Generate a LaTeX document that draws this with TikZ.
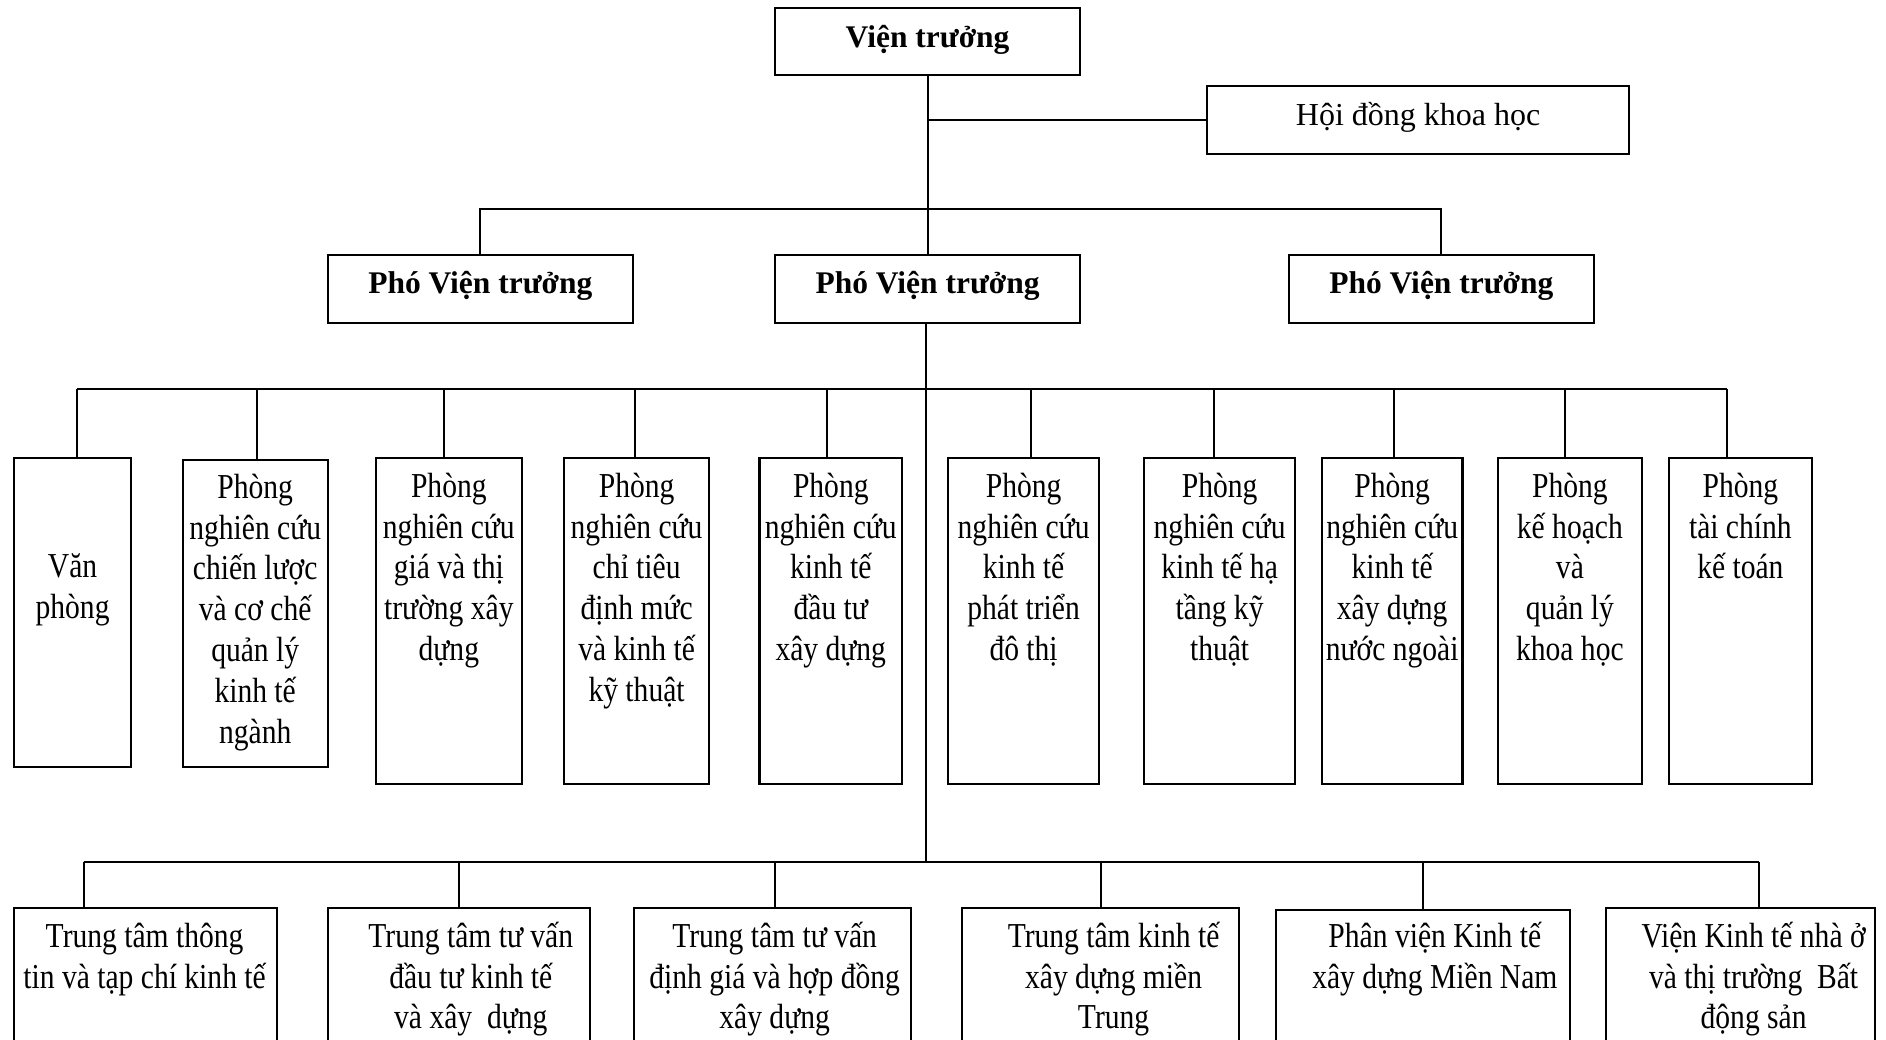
\documentclass[tikz,border=0pt]{standalone}
\usepackage{fontspec}
\setmainfont{Liberation Serif}
\newfontfamily\boxfont{Liberation Serif}[FakeStretch=0.845]
\newcommand\mkbox[5]{\node[frame, minimum width={#4-#2}, minimum height={#5-#3}] (#1) at (#2,#3) {};}
\newcommand\boxtext{\boxfont\fontsize{35}{40.8}\selectfont\lineskiplimit=-60pt\relax\lineskip=0pt\relax}
\begin{document}
\begin{tikzpicture}[x=1pt,y=-1pt,
  frame/.style={draw, line width=2.2pt, inner sep=0pt, anchor=north west},
  link/.style={line width=2pt},
  hdr/.style={font=\bfseries\fontsize{31.5}{38}\selectfont, anchor=base, inner sep=0pt},
  plain/.style={font=\fontsize{32}{38}\selectfont, anchor=base, inner sep=0pt},
  txt/.style={font=\boxtext, align=flush center, inner sep=0pt, anchor=north, text width=320pt}]
\useasboundingbox (0,0) rectangle (1886,1040);
\fill[white] (0,0) rectangle (1886,1040);
\clip (0,0) rectangle (1886,1040);

% top level
\mkbox{vt}{774}{7}{1079}{74}
\mkbox{hd}{1206}{85}{1628}{153}
\mkbox{p1}{327}{254}{631.5}{322}
\mkbox{p2}{774}{254}{1079}{322}
\mkbox{p3}{1288}{254}{1592.5}{322}
\node[hdr] (vt-t) at ([yshift=-41pt]vt.north) {Viện trưởng};
\node[plain] (hd-t) at ([yshift=-41pt]hd.north) {Hội đồng khoa học};
\node[hdr] (p1-t) at ([yshift=-40pt]p1.north) {Phó Viện trưởng};
\node[hdr] (p2-t) at ([yshift=-40pt]p2.north) {Phó Viện trưởng};
\node[hdr] (p3-t) at ([yshift=-40pt]p3.north) {Phó Viện trưởng};

% departments
\mkbox{v1}{13}{457}{130}{766}
\mkbox{v2}{181.6}{459}{326.6}{766}
\mkbox{v3}{374.7}{457}{520.8}{783}
\mkbox{v4}{563}{457}{708}{783}
\mkbox{v5}{758.4}{457}{901}{783}
\mkbox{v6}{947}{457}{1098}{783}
\mkbox{v7}{1143}{457}{1294}{783}
\mkbox{v8}{1320.7}{457}{1461.4}{783}
\mkbox{v9}{1497}{457}{1640.6}{783}
\mkbox{v10}{1667.7}{457}{1810.8}{783}
\node[txt] (v1-t) at (v1.north) {\rule{0pt}{120pt}Văn\\phòng};
\node[txt] (v2-t) at (v2.north) {\rule{0pt}{39pt}Phòng\\nghiên cứu\\chiến lược\\và cơ chế\\quản lý\\kinh tế\\ngành};
\node[txt] (v3-t) at (v3.north) {\rule{0pt}{40pt}Phòng\\nghiên cứu\\giá và thị\\trường xây\\dựng};
\node[txt] (v4-t) at (v4.north) {\rule{0pt}{40pt}Phòng\\nghiên cứu\\chỉ tiêu\\định mức\\và kinh tế\\kỹ thuật};
\node[txt] (v5-t) at (v5.north) {\rule{0pt}{40pt}Phòng\\nghiên cứu\\kinh tế\\đầu tư\\xây dựng};
\node[txt] (v6-t) at (v6.north) {\rule{0pt}{40pt}Phòng\\nghiên cứu\\kinh tế\\phát triển\\đô thị};
\node[txt] (v7-t) at (v7.north) {\rule{0pt}{40pt}Phòng\\nghiên cứu\\kinh tế hạ\\tầng kỹ\\thuật};
\node[txt] (v8-t) at (v8.north) {\rule{0pt}{40pt}Phòng\\nghiên cứu\\kinh tế\\xây dựng\\nước ngoài};
\node[txt] (v9-t) at (v9.north) {\rule{0pt}{40pt}Phòng\\kế hoạch\\và\\quản lý\\khoa học};
\node[txt] (v10-t) at (v10.north) {\rule{0pt}{40pt}Phòng\\tài chính\\kế toán};

% centres
\mkbox{b1}{13}{907}{276}{1070}
\mkbox{b2}{326.6}{907}{588.8}{1070}
\mkbox{b3}{633}{907}{910}{1070}
\mkbox{b4}{961}{907}{1238}{1070}
\mkbox{b5}{1275}{909}{1568.5}{1070}
\mkbox{b6}{1605}{907}{1874}{1070}
\node[txt] (b1-t) at ([xshift=-1pt]b1.north) {\rule{0pt}{40pt}Trung tâm thông\\tin và tạp chí kinh tế};
\node[txt] (b2-t) at ([xshift=12pt]b2.north) {\rule{0pt}{40pt}Trung tâm tư vấn\\đầu tư kinh tế\\và xây\ \ dựng};
\node[txt] (b3-t) at ([xshift=2pt]b3.north) {\rule{0pt}{40pt}Trung tâm tư vấn\\định giá và hợp đồng\\xây dựng};
\node[txt] (b4-t) at ([xshift=13pt]b4.north) {\rule{0pt}{40pt}Trung tâm kinh tế\\xây dựng miền\\Trung};
\node[txt] (b5-t) at ([xshift=12pt]b5.north) {\rule{0pt}{38pt}Phân viện Kinh tế\\xây dựng Miền Nam};
\node[txt] (b6-t) at ([xshift=13pt]b6.north) {\rule{0pt}{40pt}Viện Kinh tế nhà ở\\và thị trường\ \ Bất\\động sản};

% connectors
\coordinate (busA) at (926,209);
\coordinate (busB) at (924,389);
\coordinate (busC) at (924,862);
\draw[link] (vt.south) -- (p2.north);
\draw[link] (vt.south |- hd.west) -- (hd.west);
\draw[link] (p1.north) |- (busA) -| (p3.north);
\draw[link] ([xshift=-2]p2.south) -- ([xshift=-2]p2.south |- busC);
\draw[link] ([xshift=4.5]v1.north |- busB) -- ([xshift=-13.6]v10.north |- busB);
\foreach \n/\s in {v1/4.5, v2/1.6, v3/-5, v4/-1.5, v5/-4, v6/7.5, v7/-5.5, v8/2, v9/-5.4, v10/-13.6}
  \draw[link] ([xshift=\s]\n.north) -- ([xshift=\s]\n.north |- busB);
\draw[link] ([xshift=-61.5]b1.north |- busC) -- ([xshift=18.5]b6.north |- busC);
\foreach \n/\s in {b1/-61.5, b2/0.3, b3/2.5, b4/0.5, b5/0.25, b6/18.5}
  \draw[link] ([xshift=\s]\n.north) -- ([xshift=\s]\n.north |- busC);
\end{tikzpicture}
\end{document}
